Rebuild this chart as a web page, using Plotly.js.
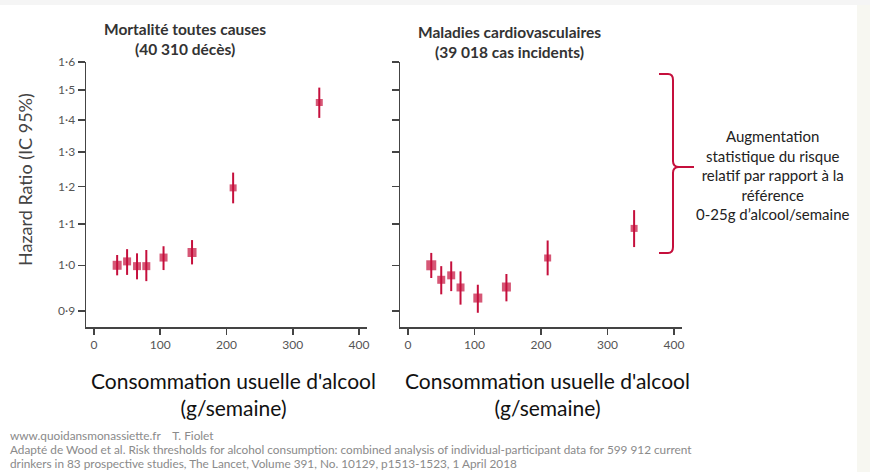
<!DOCTYPE html>
<html><head><meta charset="utf-8">
<script src="https://cdn.plot.ly/plotly-3.0.1.min.js"></script>
<style>html,body{margin:0;padding:0;background:#fff}</style>
</head><body><div id="chart" style="width:870px;height:472px"></div>
<script>
// ---- data ----
const consumption = [35, 50, 65, 79, 105, 148, 210, 340];
const mortHR = [1.000, 1.009, 0.998, 0.998, 1.018, 1.030, 1.196, 1.457];
const mortLo = [0.977, 0.978, 0.968, 0.964, 0.989, 1.002, 1.154, 1.406];
const mortHi = [1.024, 1.038, 1.028, 1.036, 1.045, 1.060, 1.239, 1.508];
const cvdHR = [1.000, 0.967, 0.977, 0.950, 0.927, 0.951, 1.017, 1.089];
const cvdLo = [0.971, 0.935, 0.942, 0.913, 0.896, 0.920, 0.977, 1.043];
const cvdHi = [1.029, 0.998, 1.009, 0.986, 0.956, 0.980, 1.059, 1.136];
const yTickVals = [0.9, 1.0, 1.1, 1.2, 1.3, 1.4, 1.5, 1.6];
const yTickText = ["0·9", "1·0", "1·1", "1·2", "1·3", "1·4", "1·5", "1·6"];
const xTickVals = [0, 100, 200, 300, 400];
const panelTitles = ["Mortalité toutes causes<br>(40 310 décès)", "Maladies cardiovasculaires<br>(39 018 cas incidents)"];
const xTitle = "Consommation usuelle d'alcool<br>(g/semaine)";
const yTitle = "Hazard Ratio (IC 95%)";
const noteText = "Augmentation<br>statistique du risque<br>relatif par rapport à la<br>référence<br>0-25g d’alcool/semaine";
const footer = ["www.quoidansmonassiette.fr    T. Fiolet",
  "Adapté de Wood et al. Risk thresholds for alcohol consumption: combined analysis of individual-participant data for 599 912 current",
  "drinkers in 83 prospective studies, The Lancet, Volume 391, No. 10129, p1513-1523, 1 April 2018"];

// ---- styles ----
const W = 870, H = 472;
const px = x => x / W, py = y => 1 - y / H;
const RED = "#c50f3c";
const FONT = "Lato, 'Open Sans', sans-serif";
const mortSizes = [9, 8, 8, 8, 8, 9, 7, 7];
const cvdSizes = [10, 8, 8, 8, 9, 9, 7, 7];

function trace(y, lo, hi, sizes, xa, ya) {
  return {
    type: "scatter", mode: "markers", x: consumption, y: y, xaxis: xa, yaxis: ya,
    marker: {symbol: "square", size: sizes, color: RED, line: {width: 0}},
    error_y: {type: "data", symmetric: false,
      array: hi.map((h, i) => h - y[i]), arrayminus: lo.map((l, i) => y[i] - l),
      color: RED, thickness: 2, width: 0},
    hoverinfo: "x+y"
  };
}

const data = [
  trace(mortHR, mortLo, mortHi, mortSizes, "x", "y"),
  trace(cvdHR, cvdLo, cvdHi, cvdSizes, "x2", "y2")
];

const axX = {
  range: [-12, 412], tickvals: xTickVals, ticks: "outside", ticklen: 6, tickwidth: 1.5,
  tickcolor: "#444", showline: true, linecolor: "#444", linewidth: 1.5,
  showgrid: false, zeroline: false, tickfont: {family: FONT, size: 12, color: "#555"}, fixedrange: true
};
const axY = {
  type: "log", range: [Math.log10(0.867), Math.log10(1.6)], tickvals: yTickVals, ticktext: yTickText,
  ticks: "outside", ticklen: 7, tickwidth: 1.5, tickcolor: "#444", showline: true, linecolor: "#444",
  linewidth: 1.5, showgrid: false, zeroline: false, tickfont: {family: FONT, size: 12, color: "#555"},
  domain: [py(327), py(62)], fixedrange: true
};

const bracket = [
  ["M", 659, 74], ["L", 668, 74], ["Q", 673, 74, 673, 80], ["L", 673, 161], ["Q", 673, 167, 679, 167],
  ["L", 694, 167], ["M", 679, 167], ["Q", 673, 167, 673, 173], ["L", 673, 247],
  ["Q", 673, 253, 668, 253], ["L", 659, 253]
].map(s => {
  let out = s[0];
  for (let i = 1; i < s.length; i += 2) out += " " + px(s[i]).toFixed(5) + "," + py(s[i + 1]).toFixed(5);
  return out;
}).join(" ");

function ann(text, x, y, font, extra) {
  return Object.assign({text: text, x: px(x), y: py(y), xref: "paper", yref: "paper", showarrow: false,
    xanchor: "center", yanchor: "middle", align: "center", font: font}, extra || {});
}

const layout = {
  width: W, height: H, margin: {l: 0, r: 0, t: 0, b: 0},
  paper_bgcolor: "#ffffff", plot_bgcolor: "rgba(0,0,0,0)", showlegend: false,
  font: {family: FONT},
  xaxis: Object.assign({}, axX, {domain: [px(86), px(367)], anchor: "y"}),
  yaxis: Object.assign({}, axY, {anchor: "x"}),
  xaxis2: Object.assign({}, axX, {domain: [px(400), px(682)], anchor: "y2"}),
  yaxis2: Object.assign({}, axY, {anchor: "x2", showticklabels: false}),
  shapes: [
    {type: "rect", xref: "paper", yref: "paper", x0: px(857), x1: 1, y0: 0, y1: 1,
      fillcolor: "#f7f7f1", line: {width: 0}, layer: "below"},
    {type: "rect", xref: "paper", yref: "paper", x0: 0, x1: 1, y0: py(5), y1: 1,
      fillcolor: "#f5f5f5", line: {width: 0}, layer: "below"},
    {type: "line", xref: "x domain", yref: "y", x0: 0, x1: 1, y0: 0, y1: 0,
      line: {color: "#5f7373", width: 1.5, dash: "3px,3px"}, layer: "below"},
    {type: "line", xref: "x2 domain", yref: "y2", x0: 0, x1: 1, y0: 0, y1: 0,
      line: {color: "#5f7373", width: 1.5, dash: "3px,3px"}, layer: "below"},
    {type: "path", xref: "paper", yref: "paper", path: bracket, line: {color: RED, width: 2}}
  ],
  annotations: [
    ann(panelTitles[0], 185, 39, {family: FONT, size: 15.5, color: "#333", weight: 700}),
    ann(panelTitles[1], 510, 42, {family: FONT, size: 15.5, color: "#333", weight: 700}),
    ann(yTitle, 25, 180, {family: FONT, size: 18, color: "#444"}, {textangle: -90}),
    ann(xTitle, 233, 394, {family: FONT, size: 21, color: "#111"}),
    ann(xTitle, 547, 394, {family: FONT, size: 21, color: "#111"}),
    ann(noteText, 772, 175, {family: FONT, size: 15, color: "#222"}),
    ann(footer[0], 8, 435, {family: FONT, size: 11.8, color: "#8a8a8a"}, {xanchor: "left", align: "left"}),
    ann(footer[1], 8, 449, {family: FONT, size: 11.8, color: "#8a8a8a"}, {xanchor: "left", align: "left"}),
    ann(footer[2], 8, 463, {family: FONT, size: 11.8, color: "#8a8a8a"}, {xanchor: "left", align: "left"})
  ]
};

Plotly.newPlot("chart", data, layout, {displayModeBar: false, staticPlot: true});
</script></body></html>
